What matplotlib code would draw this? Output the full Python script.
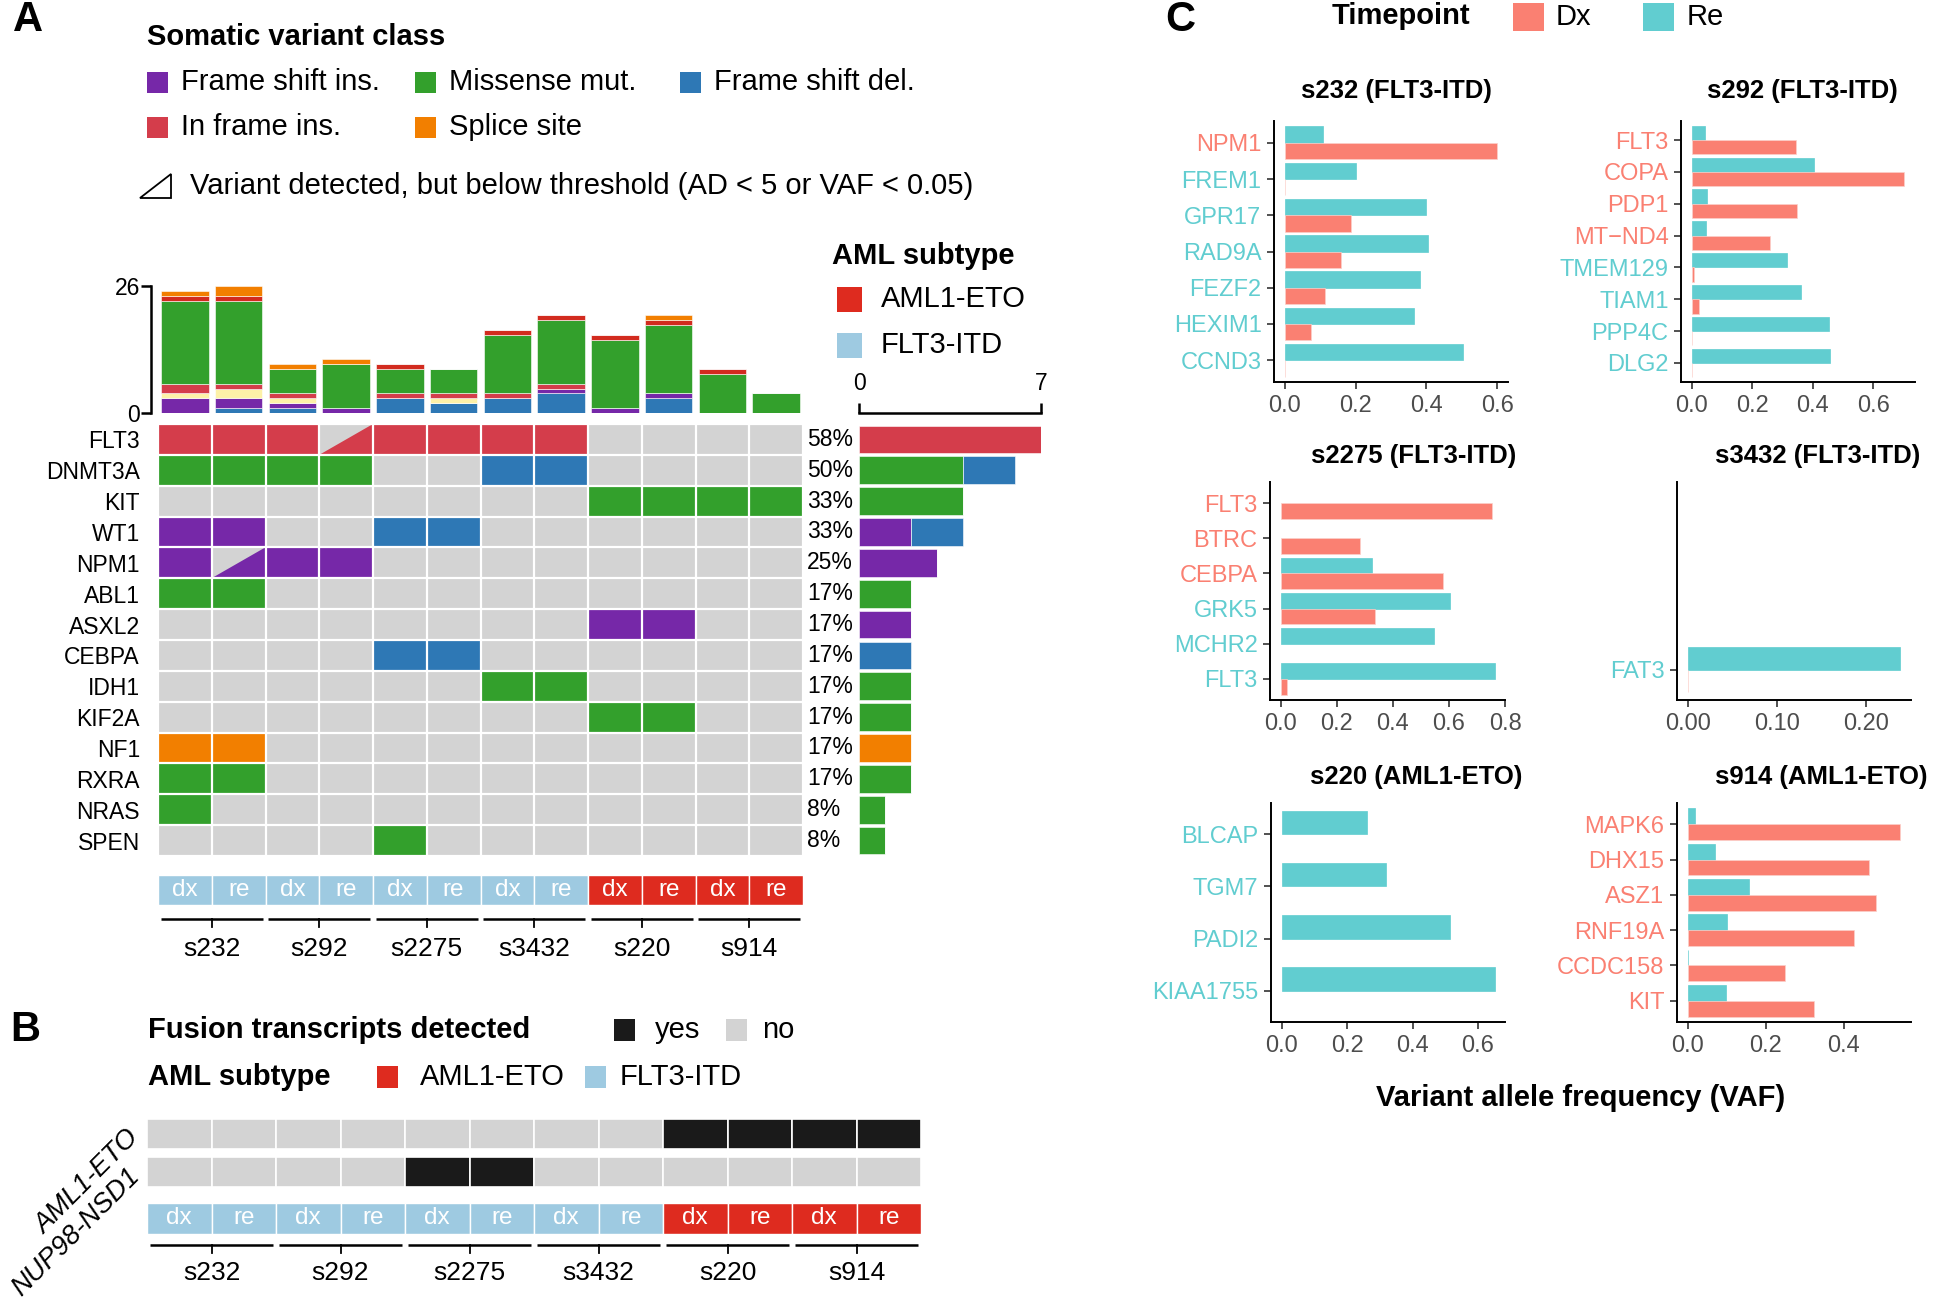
import numpy as np
import matplotlib.pyplot as plt
from matplotlib.patches import Rectangle, Polygon

plt.rcParams['font.family'] = ['Liberation Sans', 'DejaVu Sans']

W, H = 1952, 1300

# ---------------- data ----------------
samples = ['s232', 's292', 's2275', 's3432', 's220', 's914']
timepoints = ['dx', 're'] * 6
subtype = ['FLT3-ITD'] * 8 + ['AML1-ETO'] * 4

# total variants per sample (bottom -> top of the stacked bar)
frame_shift_del = [0, 1, 1, 0, 3, 2, 3, 4, 0, 3, 0, 0]
frame_shift_ins = [3, 2, 1, 1, 0, 0, 0, 1, 1, 1, 0, 0]
in_frame_del = [1, 2, 1, 0, 0, 1, 0, 0, 0, 0, 0, 0]
in_frame_ins = [2, 1, 1, 0, 1, 1, 1, 1, 0, 0, 0, 0]
missense = [17, 17, 5, 9, 5, 5, 12, 13, 14, 14, 8, 4]
nonsense = [1, 1, 0, 0, 1, 0, 1, 1, 1, 1, 1, 0]
splice_site = [1, 2, 1, 1, 0, 0, 0, 0, 0, 1, 0, 0]

genes = ['FLT3', 'DNMT3A', 'KIT', 'WT1', 'NPM1', 'ABL1', 'ASXL2', 'CEBPA',
         'IDH1', 'KIF2A', 'NF1', 'RXRA', 'NRAS', 'SPEN']
# one row per gene, one entry per sample column; '*' = below threshold
oncoprint = [
    ['IFI', 'IFI', 'IFI', 'IFI*', 'IFI', 'IFI', 'IFI', 'IFI', '', '', '', ''],
    ['MIS', 'MIS', 'MIS', 'MIS', '', '', 'FSD', 'FSD', '', '', '', ''],
    ['', '', '', '', '', '', '', '', 'MIS', 'MIS', 'MIS', 'MIS'],
    ['FSI', 'FSI', '', '', 'FSD', 'FSD', '', '', '', '', '', ''],
    ['FSI', 'FSI*', 'FSI', 'FSI', '', '', '', '', '', '', '', ''],
    ['MIS', 'MIS', '', '', '', '', '', '', '', '', '', ''],
    ['', '', '', '', '', '', '', '', 'FSI', 'FSI', '', ''],
    ['', '', '', '', 'FSD', 'FSD', '', '', '', '', '', ''],
    ['', '', '', '', '', '', 'MIS', 'MIS', '', '', '', ''],
    ['', '', '', '', '', '', '', '', 'MIS', 'MIS', '', ''],
    ['SPL', 'SPL', '', '', '', '', '', '', '', '', '', ''],
    ['MIS', 'MIS', '', '', '', '', '', '', '', '', '', ''],
    ['MIS', '', '', '', '', '', '', '', '', '', '', ''],
    ['', '', '', '', 'MIS', '', '', '', '', '', '', ''],
]

fusion_aml1_eto = [0, 0, 0, 0, 0, 0, 0, 0, 1, 1, 1, 1]
fusion_nup98_nsd1 = [0, 0, 0, 0, 1, 1, 0, 0, 0, 0, 0, 0]

# VAF per sample: genes, Dx, Re, timepoint the gene is coloured by (nan = no bar)
nan = np.nan
s232_genes = ['NPM1', 'FREM1', 'GPR17', 'RAD9A', 'FEZF2', 'HEXIM1', 'CCND3']
s232_dx = [0.60, 0.0, 0.187, 0.158, 0.113, 0.073, 0.0]
s232_re = [0.107, 0.20, 0.40, 0.405, 0.382, 0.364, 0.503]
s232_grp = ['Dx', 'Re', 'Re', 'Re', 'Re', 'Re', 'Re']

s292_genes = ['FLT3', 'COPA', 'PDP1', 'MT\u2212ND4', 'TMEM129', 'TIAM1', 'PPP4C', 'DLG2']
s292_dx = [0.345, 0.703, 0.348, 0.259, 0.009, 0.023, 0.0, 0.0]
s292_re = [0.045, 0.405, 0.05, 0.046, 0.314, 0.361, 0.455, 0.456]
s292_grp = ['Dx', 'Dx', 'Dx', 'Dx', 'Re', 'Re', 'Re', 'Re']

s2275_genes = ['FLT3', 'BTRC', 'CEBPA', 'GRK5', 'MCHR2', 'FLT3']
s2275_dx = [0.753, 0.283, 0.579, 0.337, nan, 0.024]
s2275_re = [nan, nan, 0.325, 0.605, 0.548, 0.763]
s2275_grp = ['Dx', 'Dx', 'Dx', 'Re', 'Re', 'Re']

s3432_genes = ['FAT3']
s3432_dx = [0.0]
s3432_re = [0.238]
s3432_grp = ['Re']

s220_genes = ['BLCAP', 'TGM7', 'PADI2', 'KIAA1755']
s220_dx = [nan, nan, nan, nan]
s220_re = [0.261, 0.320, 0.516, 0.651]
s220_grp = ['Re', 'Re', 'Re', 'Re']

s914_genes = ['MAPK6', 'DHX15', 'ASZ1', 'RNF19A', 'CCDC158', 'KIT']
s914_dx = [0.546, 0.466, 0.483, 0.426, 0.25, 0.325]
s914_re = [0.019, 0.069, 0.157, 0.10, 0.0, 0.098]
s914_grp = ['Dx', 'Dx', 'Dx', 'Dx', 'Dx', 'Dx']

# ---------------- styles ----------------
cls_color = {'FSI': '#7628a8', 'MIS': '#33a02c', 'FSD': '#2e78b5',
             'IFI': '#d43d4b', 'SPL': '#f27f00',
             'IFD': '#fdf1a8', 'NON': '#d22b1f'}
sub_color = {'AML1-ETO': '#de2b1f', 'FLT3-ITD': '#9ecae1'}
grey = '#d3d3d3'
dx_col, re_col = '#fa8072', '#61cdd0'
tp_col = {'Dx': dx_col, 'Re': re_col}

fig = plt.figure(figsize=(W / 100, H / 100), dpi=100)
ov = fig.add_axes([0, 0, 1, 1])
ov.set_xlim(0, W)
ov.set_ylim(H, 0)
ov.axis('off')


def add_ax(x0, y0, x1, y1):
    a = fig.add_axes([x0 / W, 1 - y1 / H, (x1 - x0) / W, (y1 - y0) / H])
    a.patch.set_alpha(0)
    return a


def key(x, y, w, h, c):
    ov.add_patch(Rectangle((x, y - h / 2), w, h, fc=c, ec='none'))


LEG = 21

# ---------------- panel A legends ----------------
ov.text(28, 20, 'A', fontsize=30, fontweight='bold', ha='center', va='center')
ov.text(147, 37, 'Somatic variant class', fontsize=LEG, fontweight='bold', va='center')
for (x, y, c, lab) in [(147, 82, 'FSI', 'Frame shift ins.'), (415, 82, 'MIS', 'Missense mut.'),
                       (680, 82, 'FSD', 'Frame shift del.'), (147, 127, 'IFI', 'In frame ins.'),
                       (415, 127, 'SPL', 'Splice site')]:
    key(x, y, 21, 21, cls_color[c])
    ov.text(x + 34, y, lab, fontsize=LEG, va='center')
ov.add_patch(Polygon([(140, 198), (171, 198), (171, 174)], closed=True, fc='none', ec='black', lw=1.3))
ov.text(190, 186, 'Variant detected, but below threshold (AD < 5 or VAF < 0.05)', fontsize=LEG, va='center')

ov.text(832, 256, 'AML subtype', fontsize=LEG, fontweight='bold', va='center')
key(837, 299, 25, 25, sub_color['AML1-ETO'])
ov.text(881, 299, 'AML1-ETO', fontsize=LEG, va='center')
key(837, 345, 25, 25, sub_color['FLT3-ITD'])
ov.text(881, 345, 'FLT3-ITD', fontsize=LEG, va='center')

# ---------------- panel A: top stacked bars ----------------
ax_top = add_ax(158, 286, 803, 413)
xs = np.arange(12)
bottom = np.zeros(12)
for vals, c in [(frame_shift_del, 'FSD'), (frame_shift_ins, 'FSI'), (in_frame_del, 'IFD'),
                (in_frame_ins, 'IFI'), (missense, 'MIS'), (nonsense, 'NON'), (splice_site, 'SPL')]:
    v = np.array(vals, dtype=float)
    ax_top.bar(xs, v, bottom=bottom, width=0.88, color=cls_color[c], edgecolor='white', linewidth=0.4)
    bottom += v
ax_top.set_xlim(-0.5, 11.5)
ax_top.set_ylim(0, 26)
for s in ['top', 'right', 'bottom']:
    ax_top.spines[s].set_visible(False)
ax_top.spines['left'].set_position(('outward', 5))
ax_top.spines['left'].set_linewidth(1.8)
ax_top.set_yticks([0, 26])
ax_top.set_xticks([])
ax_top.tick_params(axis='y', length=7, width=1.8, labelsize=16.5, pad=1)

# ---------------- panel A: oncoprint grid ----------------
ax_g = add_ax(158, 424, 803, 856)
nr, nc = len(genes), 12
ax_g.add_patch(Rectangle((-0.5, -0.5), nc, nr, fc=grey, ec='none'))
counts = {c: np.zeros(nr) for c in cls_color}
for r in range(nr):
    for c in range(nc):
        call = oncoprint[r][c]
        if not call:
            continue
        code = call.rstrip('*')
        if call.endswith('*'):
            ax_g.add_patch(Polygon([(c - 0.5, r + 0.5), (c + 0.5, r + 0.5), (c + 0.5, r - 0.5)],
                                   closed=True, fc=cls_color[code], ec='none'))
        else:
            ax_g.add_patch(Rectangle((c - 0.5, r - 0.5), 1, 1, fc=cls_color[code], ec='none'))
            counts[code][r] += 1
for c in range(nc + 1):
    ax_g.axvline(c - 0.5, color='white', lw=1.6)
for r in range(nr + 1):
    ax_g.axhline(r - 0.5, color='white', lw=1.6)
ax_g.set_xlim(-0.5, 11.5)
ax_g.set_ylim(nr - 0.5, -0.5)
ax_g.set_xticks([])
ax_g.set_yticks(range(nr))
ax_g.set_yticklabels(genes, fontsize=16.5)
ax_g.tick_params(axis='y', length=0, pad=13)
for s in ax_g.spines.values():
    s.set_visible(False)
total = sum(counts.values())
for r in range(nr):
    ax_g.text(1.006, r, '%d%%' % round(100 * total[r] / nc), transform=ax_g.get_yaxis_transform(),
              fontsize=16.5, va='center', ha='left')

# right bars
ax_r = add_ax(859, 424, 1041, 856)
left = np.zeros(nr)
for code in ['IFI', 'FSI', 'MIS', 'SPL', 'FSD']:
    ax_r.barh(np.arange(nr), counts[code], left=left, height=0.9, color=cls_color[code],
              edgecolor='white', linewidth=0.4)
    left += counts[code]
ax_r.set_xlim(0, 7)
ax_r.set_ylim(nr - 0.5, -0.5)
for s in ['bottom', 'right', 'left']:
    ax_r.spines[s].set_visible(False)
ax_r.spines['top'].set_position(('outward', 8))
ax_r.spines['top'].set_linewidth(1.8)
ax_r.xaxis.tick_top()
ax_r.set_xticks([0, 7])
ax_r.set_yticks([])
ax_r.tick_params(axis='x', length=7, width=1.8, labelsize=16.5, pad=6)


def annotation_row(a):
    for c in range(12):
        a.add_patch(Rectangle((c - 0.5, 0), 1, 1, fc=sub_color[subtype[c]], ec='white', lw=1))
        a.text(c, 0.5, timepoints[c], color='white', fontsize=17.5, ha='center', va='center')
    a.set_xlim(-0.5, 11.5)
    a.set_ylim(1, 0)
    a.axis('off')


def brackets(a, yl, yt, ylab):
    for i, s in enumerate(samples):
        a.plot([2 * i - 0.45, 2 * i + 1.45], [yl, yl], color='black', lw=1.8, solid_capstyle='butt')
        a.plot([2 * i + 0.5, 2 * i + 0.5], [yl, yt], color='black', lw=1.3)
        a.text(2 * i + 0.5, ylab, s, fontsize=19, ha='center', va='center')
    a.set_xlim(-0.5, 11.5)
    a.set_ylim(1, 0)
    a.axis('off')


annotation_row(add_ax(158, 875, 803, 905))
brackets(add_ax(158, 912, 803, 965), 0.14, 0.28, 0.70)

# ---------------- panel B ----------------
ov.text(25, 1030, 'B', fontsize=30, fontweight='bold', ha='center', va='center')
ov.text(148, 1030, 'Fusion transcripts detected', fontsize=LEG, fontweight='bold', va='center')
key(614, 1030, 21, 22, '#1a1a1a')
ov.text(655, 1030, 'yes', fontsize=LEG, va='center')
key(726, 1030, 21, 22, grey)
ov.text(762, 1030, 'no', fontsize=LEG, va='center')
ov.text(148, 1077, 'AML subtype', fontsize=LEG, fontweight='bold', va='center')
key(377, 1077, 21, 22, sub_color['AML1-ETO'])
ov.text(420, 1077, 'AML1-ETO', fontsize=LEG, va='center')
key(585, 1077, 21, 22, sub_color['FLT3-ITD'])
ov.text(620, 1077, 'FLT3-ITD', fontsize=LEG, va='center')

ax_f = add_ax(147, 1115, 921, 1191)
for r, row in enumerate([fusion_aml1_eto, fusion_nup98_nsd1]):
    for c, v in enumerate(row):
        ax_f.add_patch(Rectangle((c - 0.5, r - 0.395), 1, 0.79, fc='#1a1a1a' if v else grey,
                                 ec='white', lw=1.2))
ax_f.set_xlim(-0.5, 11.5)
ax_f.set_ylim(1.5, -0.5)
ax_f.axis('off')
for r, lab in enumerate(['AML1-ETO', 'NUP98-NSD1']):
    ax_f.text(-0.68, r, lab, fontsize=19.5, style='italic', rotation=45, rotation_mode='anchor',
              ha='right', va='center')

annotation_row(add_ax(147, 1203, 921, 1234))
brackets(add_ax(147, 1238, 921, 1292), 0.13, 0.27, 0.64)

# ---------------- panel C ----------------
ov.text(1180, 20, 'C', fontsize=30, fontweight='bold', ha='center', va='center')
ov.text(1332, 16, 'Timepoint', fontsize=LEG, fontweight='bold', va='center')
key(1513, 17, 31, 28, dx_col)
ov.text(1556, 17, 'Dx', fontsize=LEG, va='center')
key(1643, 17, 31, 28, re_col)
ov.text(1687, 17, 'Re', fontsize=LEG, va='center')

vaf_panels = [
    ('s232 (FLT3-ITD)', s232_genes, s232_dx, s232_re, s232_grp, (1274, 121, 1508, 382),
     (1396, 91), [0, 0.2, 0.4, 0.6], '%.1f', (-0.03, 0.63), None),
    ('s292 (FLT3-ITD)', s292_genes, s292_dx, s292_re, s292_grp, (1681, 121, 1915, 382),
     (1802, 91), [0, 0.2, 0.4, 0.6], '%.1f', (-0.035, 0.738), None),
    ('s2275 (FLT3-ITD)', s2275_genes, s2275_dx, s2275_re, s2275_grp, (1270, 482, 1505, 700),
     (1414, 456), [0, 0.2, 0.4, 0.6, 0.8], '%.1f', (-0.038, 0.80), None),
    ('s3432 (FLT3-ITD)', s3432_genes, s3432_dx, s3432_re, s3432_grp, (1677, 482, 1911, 700),
     (1818, 456), [0, 0.1, 0.2], '%.2f', (-0.012, 0.25), (0.6, -3.75)),
    ('s220 (AML1-ETO)', s220_genes, s220_dx, s220_re, s220_grp, (1271, 803, 1505, 1022),
     (1416, 777), [0, 0.2, 0.4, 0.6], '%.1f', (-0.033, 0.683), None),
    ('s914 (AML1-ETO)', s914_genes, s914_dx, s914_re, s914_grp, (1677, 803, 1911, 1022),
     (1821, 777), [0, 0.2, 0.4], '%.1f', (-0.028, 0.573), None),
]
for title, g, dx, re, grp, box, tpos, ticks, fmt, xl, yl in vaf_panels:
    a = add_ax(*box)
    y = np.arange(len(g))
    a.barh(y - 0.225, re, height=0.45, color=re_col, edgecolor=re_col, linewidth=0.5)
    a.barh(y + 0.225, dx, height=0.45, color=dx_col, edgecolor='#fbd0ca', linewidth=0.5)
    a.set_xlim(*xl)
    if yl is None:
        yl = (len(g) - 0.4, -0.6)
    a.set_ylim(*yl)
    a.set_yticks(y)
    a.set_yticklabels(g, fontsize=17)
    for lab, gg in zip(a.get_yticklabels(), grp):
        lab.set_color(tp_col[gg])
    a.set_xticks(ticks)
    a.set_xticklabels([fmt % t for t in ticks], fontsize=17, color='#4d4d4d')
    a.tick_params(length=5, width=1.2, color='#333333', pad=4)
    for s in ['top', 'right']:
        a.spines[s].set_visible(False)
    for s in ['left', 'bottom']:
        a.spines[s].set_linewidth(1.4)
    ov.text(tpos[0], tpos[1], title, fontsize=18.5, fontweight='bold', ha='center', va='center')

ov.text(1581, 1098, 'Variant allele frequency (VAF)', fontsize=LEG, fontweight='bold',
        ha='center', va='center')

fig.savefig('out.png', dpi=100)
